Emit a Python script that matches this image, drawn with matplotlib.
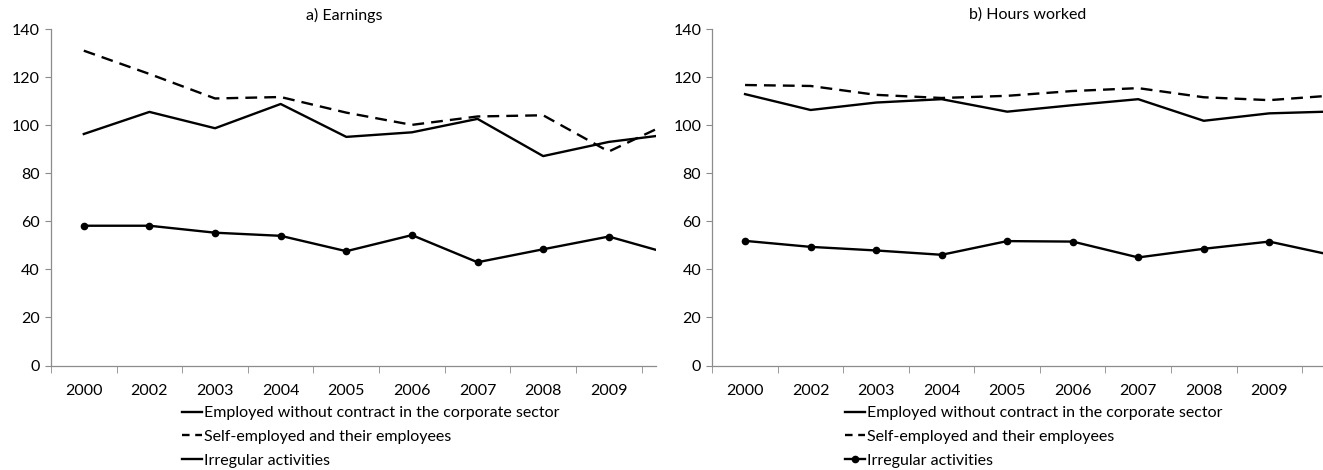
import matplotlib.pyplot as plt
from matplotlib.lines import Line2D

plt.rcParams['font.family'] = ['Lato', 'DejaVu Sans']
plt.rcParams['font.size'] = 11.5

years = ['2000', '2002', '2003', '2004', '2005', '2006', '2007', '2008', '2009', '2010']

earn_corporate = [96.4, 105.6, 98.8, 108.9, 95.2, 97.1, 102.7, 87.2, 93.1, 96.5]
earn_selfemp = [131.1, 121.4, 111.2, 111.8, 105.3, 100.2, 103.7, 104.2, 89.1, 102.0]
earn_irregular = [58.2, 58.2, 55.3, 54.0, 47.6, 54.3, 43.0, 48.4, 53.7, 46.0]

hours_corporate = [113.0, 106.4, 109.5, 110.9, 105.7, 108.4, 110.9, 101.9, 105.0, 105.8]
hours_selfemp = [116.8, 116.4, 112.7, 111.4, 112.3, 114.3, 115.5, 111.7, 110.5, 112.5]
hours_irregular = [51.9, 49.4, 47.9, 46.1, 51.8, 51.6, 45.0, 48.6, 51.6, 45.7]

series_names = ['Employed without contract in the corporate sector',
                'Self-employed and their employees',
                'Irregular activities']

W, H = 1323, 470
grey = '#8c8c8c'
fig = plt.figure(figsize=(W / 100, H / 100), dpi=100)


def panel(left, right, xmax, title, title_x, corp, selfemp, irreg, legend_x, legend_marker):
    ax = fig.add_axes([left / W, (H - 365.5) / H, (right - left) / W, 336.2 / H])
    x = range(len(years))
    l1, = ax.plot(x, corp, color='black', lw=1.7)
    l2, = ax.plot(x, selfemp, color='black', lw=1.7, dashes=(5, 3))
    l3, = ax.plot(x, irreg, color='black', lw=1.7, marker='o', markersize=4.5)

    ax.set_yticks(range(0, 141, 20))
    ax.set_xticks(list(x))
    ax.set_xticklabels(years)
    ax.set_xticks([i - 0.5 for i in range(len(years) + 1)], minor=True)
    ax.set_xlim(-0.5, xmax)
    ax.set_ylim(0, 140)
    ax.tick_params(axis='x', which='major', length=0, pad=13)
    ax.tick_params(axis='x', which='minor', length=5, color=grey, direction='out')
    ax.tick_params(axis='y', length=4, color=grey, direction='out', pad=4)
    for s in ['top', 'right']:
        ax.spines[s].set_visible(False)
    for s in ['left', 'bottom']:
        ax.spines[s].set_color(grey)
        ax.spines[s].set_linewidth(0.9)

    fig.text(title_x / W, 1 - 15 / H, title, ha='center', va='center')

    # legend handles: the dashed sample shows two short dashes, as in the source
    h2 = Line2D([], [], color='black', lw=1.7, dashes=(3.2, 2.4))
    if legend_marker:
        h3 = l3
    else:
        h3 = Line2D([], [], color='black', lw=1.7)
    fig.legend([l1, h2, h3], series_names, loc='upper left',
               bbox_to_anchor=(legend_x / W, 1 - 406 / H),
               bbox_transform=fig.transFigure, frameon=False,
               borderpad=0, borderaxespad=0, handlelength=1.25,
               handletextpad=0.1, labelspacing=0.6)
    return ax


panel(51, 656, 8.72, 'a) Earnings', 344, earn_corporate, earn_selfemp, earn_irregular, 182, False)
panel(712.3, 1323, 8.82, 'b) Hours worked', 1028, hours_corporate, hours_selfemp, hours_irregular, 845, True)

fig.savefig('out.png', dpi=100)
